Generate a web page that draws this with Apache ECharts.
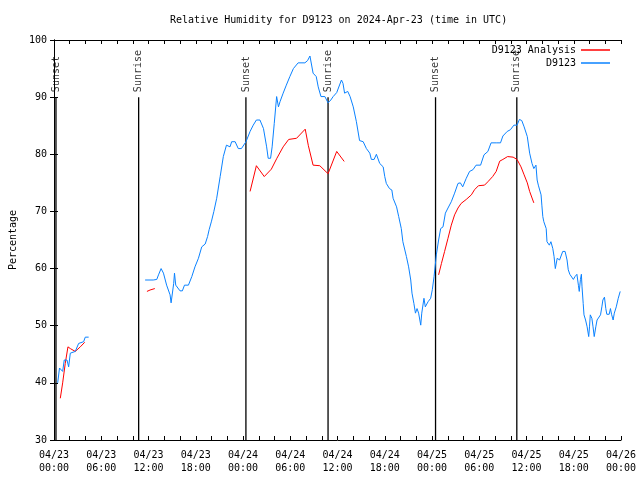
<!DOCTYPE html>
<html><head><meta charset="utf-8">
<script src="https://cdn.jsdelivr.net/npm/echarts@6/dist/echarts.min.js"></script>
<style>html,body{margin:0;padding:0;background:#fff}#c{width:640px;height:480px}</style>
</head><body><div id="c"></div>
<script>
const titleText = 'Relative Humidity for D9123 on 2024-Apr-23 (time in UTC)';
const yAxisName = 'Percentage';
const xTickLabels = ['04/23\n00:00','04/23\n06:00','04/23\n12:00','04/23\n18:00','04/24\n00:00','04/24\n06:00','04/24\n12:00','04/24\n18:00','04/25\n00:00','04/25\n06:00','04/25\n12:00','04/25\n18:00','04/26\n00:00'];
const seriesNames = ['D9123 Analysis', 'D9123'];
// hours since 04/23 00:00 UTC
const eventHours = [0.25, 10.75, 24.37, 34.8, 48.45, 58.77];
const eventNames = ['Sunset','Sunrise','Sunset','Sunrise','Sunset','Sunrise'];

const blueHoursA = [0.47,0.6,0.7,0.89,1.1,1.3,1.65,1.86,2.07,2.7,3.13,3.76,3.97,4.4];
const blueRhA    = [40.0,40.0,42.6,42.8,42.0,44.0,44.0,42.8,45.2,45.5,46.9,47.2,48.0,48.0];

const blueHoursB = [11.57,11.8,12.6,13.05,13.27,13.6,13.9,14.3,14.5,14.74,14.87,15.05,15.2,15.3,15.46,15.7,16.0,16.3,16.57,17.07,17.5,17.9,18.34,18.76,19.2,19.5,19.7,20.0,20.3,20.66,21.1,21.5,21.9,22.35,22.56,23.0,23.4,23.8,24.38,24.9,25.3,25.7,26.15,26.6,27.0,27.2,27.5,27.7,27.97,28.27,28.5,28.7,29.1,29.5,29.95,30.4,31.0,31.86,32.2,32.5,32.7,32.9,33.1,33.3,33.55,33.9,34.4,34.8,35.15,35.45,35.9,36.5,36.7,36.9,37.3,37.6,38.0,38.4,38.8,39.26,39.67,40.1,40.3,40.65,40.94,41.16,41.36,41.8,42.0,42.2,42.6,42.9,43.06,43.5,43.77,44.1,44.3,44.75,45.03,45.3,45.46,45.7,45.9,46.1,46.3,46.57,46.7,46.98,47.15,47.5,47.83,48.04,48.26,48.55,48.84,49.1,49.4,49.7,50.03,50.45,50.87,51.3,51.6,51.9,52.35,52.77,53.2,53.6,54.17,54.6,55.1,55.5,56.15,56.7,57.0,57.55,57.96,58.4,58.8,59.1,59.4,59.7,60.1,60.4,60.7,60.93,61.2,61.35,61.5,61.7,61.85,61.95,62.07,62.2,62.36,62.5,62.6,62.9,63.1,63.34,63.5,63.66,63.9,64.2,64.4,64.6,64.9,65.15,65.3,65.5,65.75,65.95,66.16,66.4,66.6,66.7,66.85,66.97,67.05,67.2,67.3,67.5,67.6,67.7,67.9,68.0,68.1,68.3,68.45,68.6,68.8,68.96,69.2,69.4,69.57,69.7,69.9,70.07,70.2,70.5,70.66,70.8,71.0,71.15,71.4,71.65,71.9];
const blueRhB    = [58.0,58.1,58.0,58.1,58.9,60.0,59.2,57.1,57.1,55.4,54.0,54.0,57.4,59.2,57.1,56.8,56.1,56.1,57.1,57.1,58.6,60.3,61.8,63.8,64.3,65.6,66.8,68.3,70.0,72.3,76.1,79.6,81.6,81.3,82.2,82.2,81.0,81.0,82.2,84.0,85.1,86.0,86.0,84.5,81.3,79.3,79.3,81.3,85.4,90.1,88.3,89.2,90.7,92.1,93.6,95.0,96.0,96.0,96.4,97.2,97.1,94.2,93.9,93.6,91.8,90.1,90.1,89.0,89.5,90.1,90.8,93.0,92.4,90.7,91.0,90.1,88.3,85.7,82.4,82.2,81.0,80.2,79.1,79.1,80.0,79.9,78.4,77.8,76.1,74.9,74.0,73.75,72.3,70.8,69.1,67.0,64.7,62.1,60.3,58.0,55.7,53.9,52.2,53.0,52.2,50.1,52.2,54.8,53.3,54.2,54.8,56.3,58.6,62.4,65.0,67.0,67.3,69.7,70.6,71.7,73.2,74.9,75.0,74.3,75.8,77.0,77.3,78.1,78.1,79.9,80.5,82.0,82.0,82.0,83.2,84.0,84.3,85.1,85.1,86.1,85.9,84.8,83.1,80.2,78.4,77.5,78.1,75.5,74.6,74.3,72.9,71.1,69.1,68.2,68.2,67.0,64.7,64.1,64.7,63.5,62.1,60.0,61.8,61.5,61.2,63.0,63.0,61.5,59.8,59.0,58.9,58.1,58.6,59.0,57.0,56.0,58.1,59.0,56.8,53.9,51.9,51.0,51.0,49.8,48.1,49.8,51.9,51.3,49.8,48.1,49.8,51.0,51.0,51.9,53.3,54.5,55.0,53.0,52.0,52.0,53.0,52.0,51.0,52.2,53.3,54.8,56.0];

const redHoursA = [0.8,1.1,1.43,1.77,2.07,2.7,3.34,3.9];
const redRhA    = [37.3,40.0,43.4,46.3,46.0,45.5,46.3,47.1];
const redHoursB = [11.8,12.2,12.8];
const redRhB    = [56.0,56.25,56.5];
const redHoursC = [24.9,25.7,26.7,27.6,28.3,29.1,29.8,30.8,31.9,32.3,32.9,33.75,34.8,35.9,36.85];
const redRhC    = [73.5,78.0,76.1,77.4,79.3,81.3,82.6,82.8,84.4,81.5,78.1,78.0,76.6,80.5,78.75];
const redHoursD = [48.84,49.2,49.6,50.03,50.45,50.87,51.3,51.7,52.35,53.0,53.4,53.9,54.67,55.1,55.7,56.15,56.6,57.0,57.6,58.3,58.8,59.3,59.7,60.1,60.4,60.93];
const redRhD    = [58.9,60.9,63.0,65.3,67.6,69.4,70.6,71.4,72.1,72.9,73.8,74.5,74.6,75.2,76.1,77.0,78.8,79.1,79.6,79.5,79.1,77.8,76.4,75.0,73.5,71.5];

const FONT = 'DejaVu Sans Mono';
const RED = '#ff0000', BLUE = '#0a82ff';

function pairs(h, v) { return h.map((x, i) => [x, v[i]]); }
function joinSegs(segs) {
  const out = [];
  segs.forEach((s, i) => { if (i > 0) out.push([s[0][0] - 0.01, '-']); out.push(...s); });
  return out;
}
const blueData = joinSegs([pairs(blueHoursA, blueRhA), pairs(blueHoursB, blueRhB)]);
const redData = joinSegs([pairs(redHoursA, redRhA), pairs(redHoursB, redRhB), pairs(redHoursC, redRhC), pairs(redHoursD, redRhD)]);
const eventLineData = joinSegs(eventHours.map(h => [[h, 30], [h, 90]]));
const eventLabelData = eventHours.map((h, i) => ({ value: [h, 90], name: eventNames[i] }));

const axisTextStyle = { color: '#000', fontFamily: FONT, fontSize: 10 };
const chart = echarts.init(document.getElementById('c'), null, { renderer: 'canvas' });
chart.setOption({
  animation: false,
  backgroundColor: '#fff',
  title: { text: titleText, left: 165, top: 10, textStyle: { color: '#000', fontFamily: FONT, fontSize: 10, fontWeight: 'normal' } },
  legend: [
    { data: [{ name: seriesNames[0], icon: 'rect' }], right: 30, top: 45, align: 'right', itemWidth: 29, itemHeight: 1.5, textStyle: axisTextStyle, padding: 0, selectedMode: false },
    { data: [{ name: seriesNames[1], icon: 'rect' }], right: 30, top: 58, align: 'right', itemWidth: 29, itemHeight: 1.5, textStyle: axisTextStyle, padding: 0, selectedMode: false }
  ],
  grid: { left: 53, right: 19, top: 40, bottom: 40, containLabel: false },
  xAxis: [
    { type: 'value', min: 0, max: 72, interval: 2, position: 'bottom',
      axisLine: { lineStyle: { color: '#000', width: 1 } },
      axisTick: { inside: true, length: 4, lineStyle: { color: '#000' } },
      axisLabel: { ...axisTextStyle, margin: 9, lineHeight: 13, showMinLabel: true, showMaxLabel: true,
        formatter: v => (v % 6 === 0 ? xTickLabels[v / 6] : '') },
      splitLine: { show: false } },
    { type: 'value', min: 0, max: 72, interval: 2, position: 'top',
      axisLine: { lineStyle: { color: '#000', width: 1 } },
      axisTick: { inside: true, length: 4, lineStyle: { color: '#000' } },
      axisLabel: { show: false }, splitLine: { show: false } }
  ],
  yAxis: [
    { type: 'value', min: 30, max: 100, interval: 10, position: 'left',
      name: yAxisName, nameLocation: 'middle', nameRotate: 90, nameGap: 36, nameTextStyle: axisTextStyle,
      axisLine: { show: true, lineStyle: { color: '#000', width: 1 } },
      axisTick: { show: true, inside: true, length: 4, lineStyle: { color: '#000' } },
      axisLabel: { ...axisTextStyle, margin: 7 }, splitLine: { show: false } },
    { type: 'value', min: 30, max: 100, interval: 10, position: 'right',
      axisLine: { show: true, lineStyle: { color: '#000', width: 1 } },
      axisTick: { show: true, inside: true, length: 4, lineStyle: { color: '#000' } },
      axisLabel: { show: false }, splitLine: { show: false } }
  ],
  series: [
    { type: 'line', name: 'events', data: eventLineData, showSymbol: false, silent: true,
      lineStyle: { color: '#000', width: 1.3 }, itemStyle: { color: '#000' }, connectNulls: false },
    { type: 'scatter', name: 'eventLabels', data: eventLabelData, symbolSize: 0, silent: true,
      label: { show: true, formatter: p => p.name, position: 'top', distance: 5, rotate: 90,
        align: 'left', verticalAlign: 'middle', color: '#000', fontFamily: FONT, fontSize: 10 } },
    { type: 'line', name: seriesNames[0], data: redData, showSymbol: false, connectNulls: false,
      lineStyle: { color: RED, width: 1 }, itemStyle: { color: RED } },
    { type: 'line', name: seriesNames[1], data: blueData, showSymbol: false, connectNulls: false,
      lineStyle: { color: BLUE, width: 1 }, itemStyle: { color: BLUE } }
  ]
});
</script></body></html>
